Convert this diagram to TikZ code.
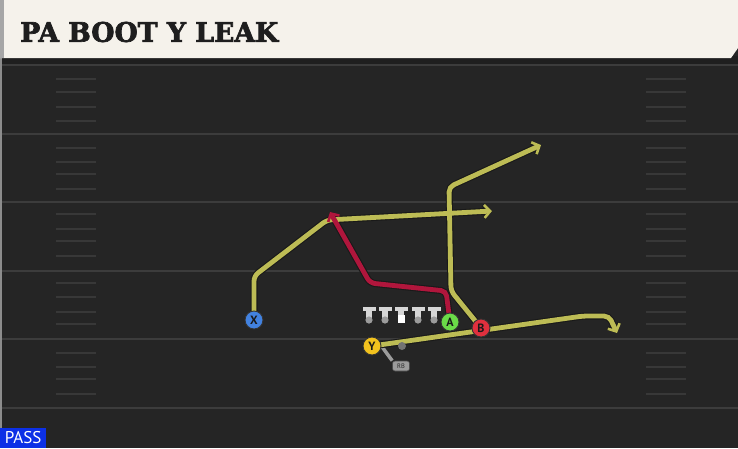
\documentclass[tikz,border=0pt]{standalone}
\usepackage{fontspec}
\setmainfont{DejaVu Serif}
\setsansfont{PT Sans}
\newfontfamily\titlefont[BoldFont={DejaVu Serif Bold}, BoldFeatures={FakeBold=2.5}]{DejaVu Serif}
\usetikzlibrary{arrows.meta}
\definecolor{field}{HTML}{252525}
\definecolor{titlebg}{HTML}{F5F2EB}
\definecolor{titletext}{HTML}{1E1E1E}
\definecolor{yardline}{HTML}{3C3C3C}
\definecolor{hashline}{HTML}{383838}
\definecolor{routeyellow}{HTML}{BDBC55}
\definecolor{routered}{HTML}{B0163C}
\definecolor{pblue}{HTML}{4282E0}
\definecolor{pyellow}{HTML}{F2C21E}
\definecolor{pgreen}{HTML}{6ADB48}
\definecolor{pred}{HTML}{E0303E}
\definecolor{passblue}{HTML}{0C30E6}
\definecolor{linegray}{HTML}{D6D6D6}
\definecolor{dotgray}{HTML}{9C9C9C}
\pgfdeclarelayer{back}
\pgfdeclarelayer{routes}
\pgfsetlayers{back,routes,main}
\tikzset{
  yard/.style={draw=yardline, line width=2pt},
  hashmark/.style={draw=hashline, line width=1.6pt},
  player/.style={circle, draw=black!80, line width=0.9pt, minimum size=18pt, inner sep=0pt,
    font=\sffamily\bfseries\fontsize{12}{12}\selectfont, text=black!90},
  routeout/.style={draw=black!90, line width=7pt, rounded corners=5pt,
    -{Straight Barb[length=6pt,width=13pt,line width=3.6pt]}},
  routein/.style={line width=4.8pt, rounded corners=5pt,
    -{Straight Barb[length=6pt,width=13pt,line width=2.6pt]}},
  rbtag/.style={rounded corners=2.5pt, fill=dotgray, draw=black!70, line width=0.6pt,
    minimum width=17pt, minimum height=10pt, inner sep=0pt,
    font=\sffamily\fontsize{6.5}{6.5}\selectfont, text=black!85},
  rbdot/.style={circle, fill=black!55, minimum size=8pt, inner sep=0pt},
}
\begin{document}
\begin{tikzpicture}[x=1pt,y=-1pt]
\useasboundingbox (0,0) rectangle (738,448);
\begin{pgfonlayer}{back}
\fill[field] (0,0) rectangle (738,448);
\fill[black!88] (0,56) rectangle (738,64);
\foreach \y in {65,133.5,202,270.5,339,407.5} \draw[yard] (0,\y) -- (738,\y);
\foreach \y in {79,92,107,121,148,162,174,189,214,229,241,256,283,297,312,324,353,367,379,394} {
  \draw[hashmark] (56,\y) -- (96,\y);
  \draw[hashmark] (646,\y) -- (686,\y);
}
\fill[black!45] (0,58) rectangle (2,448);
% title bar
\fill[titlebg] (0,0) -- (738,0) -- (738,48) -- (731,58) -- (0,58) -- cycle;
\fill[black!35] (0,0) rectangle (4,58);
\end{pgfonlayer}
\node[anchor=west, inner sep=0pt, text=titletext] (title) at (20,32)
  {\resizebox{258pt}{20pt}{\titlefont\bfseries PA BOOT Y LEAK}};
% PASS tag
\node[fill=passblue, anchor=south west, minimum width=46pt, minimum height=20pt, inner sep=0pt,
  text=white, font=\sffamily\fontsize{17}{17}\selectfont] (pass) at (0,448) {PASS};
% players
\node[player, fill=pblue] (X) at (254,320) {X};
\node[player, fill=pyellow] (Y) at (372,346) {Y};
\node[player, fill=pgreen] (A) at (450,322) {A};
\node[player, fill=pred] (B) at (481,328) {B};
\node[rbdot] (rb) at (402,346) {};
\node[rbtag] (RBt) at (401,366) {RB};
% linemen
\foreach \x/\n in {369/lt,385/lg,401/c,418/rg,434/rt} {
  \fill[linegray] (\x-6.5,306.5) rectangle (\x+6.5,311);
  \fill[linegray] (\x-2.8,310) rectangle (\x+2.8,318);
}
\foreach \x in {369,385,418,434} \fill[dotgray] (\x,320) circle (3.6pt);
\fill[white] (397.5,315) rectangle (405,322.5);
% route end points
\coordinate (xend) at (492,211);
\coordinate (aend) at (330,212);
\coordinate (bend) at (541,145);
\coordinate (yend) at (617,333);
\begin{pgfonlayer}{routes}
\draw[draw=dotgray, line width=3.5pt] (Y.east) -- (RBt.north west);
% outlines
\draw[routeout] (X.center) -- (254,276) -- (327,220) -- (xend);
\draw[routeout] (B.center) -- (451,291) -- (449,187) -- (bend);
\draw[routeout] (Y.center) -- (583,316) -- (609,316) -- (yend);
\draw[routeout] (A.center) -- (446,291) -- (370,283) -- (aend);
% fills
\draw[routein, draw=routeyellow] (X.center) -- (254,276) -- (327,220) -- (xend);
\draw[routein, draw=routeyellow] (B.center) -- (451,291) -- (449,187) -- (bend);
\draw[routein, draw=routeyellow] (Y.center) -- (583,316) -- (609,316) -- (yend);
\draw[routein, draw=routered] (A.center) -- (446,291) -- (370,283) -- (aend);
\end{pgfonlayer}
\end{tikzpicture}
\end{document}
